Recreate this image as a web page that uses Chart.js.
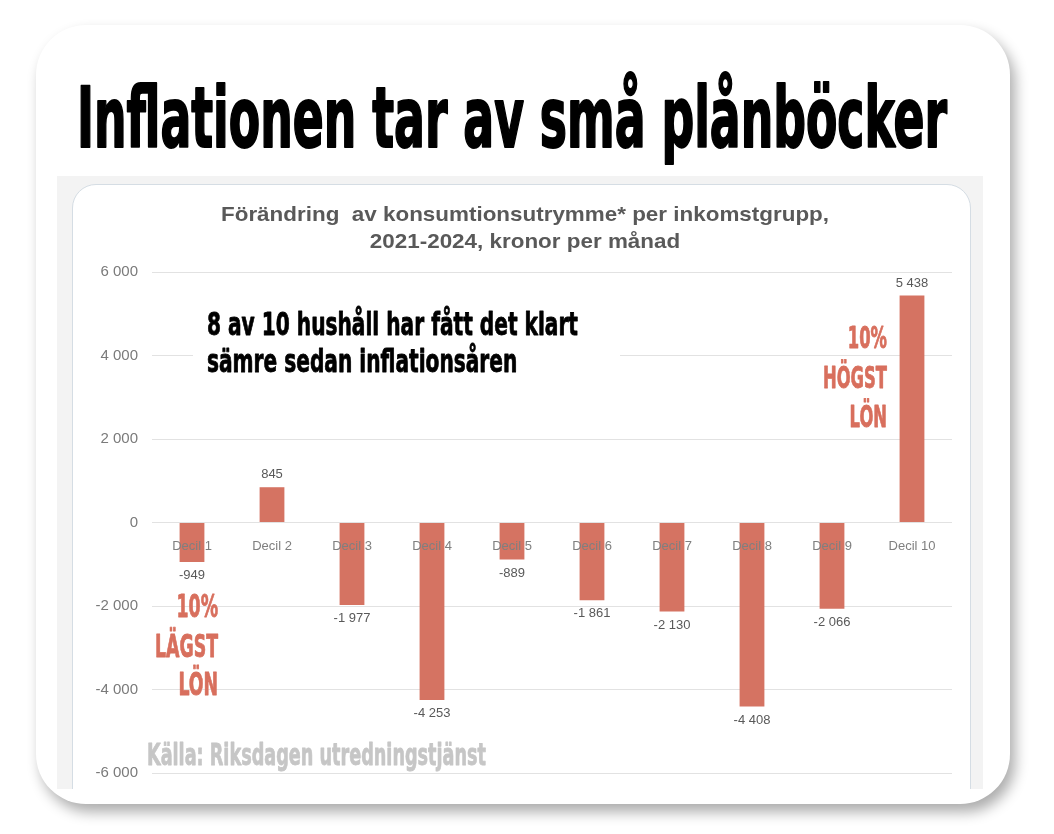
<!DOCTYPE html>
<html lang="sv">
<head>
<meta charset="utf-8">
<title>Inflationen tar av små plånböcker</title>
<script src="https://cdn.jsdelivr.net/npm/chart.js@4.4.1/dist/chart.umd.min.js"></script>
<style>
    html, body { margin: 0; padding: 0; background: #fff; }
    body { width: 1054px; height: 834px; position: relative; overflow: hidden; }
    #card {
        position: absolute; left: 36px; top: 25px; width: 974px; height: 779px;
        border-radius: 50px; background: #fff;
        box-shadow: 5px 8px 14px rgba(0, 0, 0, 0.33);
    }
    #shot {
        position: absolute; left: 57px; top: 176px; width: 926px; height: 613px;
        background: #f3f3f3; overflow: hidden;
    }
    #panel {
        position: absolute; left: 15px; top: 8px; width: 897px; height: 700px;
        background: #fff; border: 1px solid #d5dde4; border-radius: 24px;
    }
    #chart { position: absolute; left: 0; top: 0; z-index: 2; }
</style>
</head>
<body>
<div id="card"></div>
<div id="shot"><div id="panel"></div></div>
<canvas id="chart" width="1054" height="834"></canvas>

<script>
// Data
const categories = ['Decil 1', 'Decil 2', 'Decil 3', 'Decil 4', 'Decil 5',
                    'Decil 6', 'Decil 7', 'Decil 8', 'Decil 9', 'Decil 10'];
const changeKr = [-949, 845, -1977, -4253, -889, -1861, -2130, -4408, -2066, 5438];
const yTicks = [-6000, -4000, -2000, 0, 2000, 4000, 6000];

const headline = 'Inflationen tar av små plånböcker';
const chartTitle = ['Förändring  av konsumtionsutrymme* per inkomstgrupp,', '2021-2024, kronor per månad'];
const noteLines = ['8 av 10 hushåll har fått det klart', 'sämre sedan inflationsåren'];
const highLines = ['10%', 'HÖGST', 'LÖN'];
const lowLines = ['10%', 'LÄGST', 'LÖN'];
const sourceText = 'Källa: Riksdagen utredningstjänst';

const BAR_RED = '#d57362';
const TEXT_RED = '#d86f5d';
const SANS = '"Liberation Sans", Arial, sans-serif';
const NARROW = '"Liberation Sans Narrow", "DejaVu Sans Condensed", "Liberation Sans", sans-serif';

// 5438 -> "5 438", -1977 -> "-1 977"
function fmt(v) {
    const s = Math.abs(v).toString().replace(/\B(?=(\d{3})+(?!\d))/g, ' ');
    return (v < 0 ? '-' : '') + s;
}

// draws a block of lines squeezed horizontally so that the ref line gets the given width
function drawBlock(ctx, lines, opts) {
    ctx.save();
    ctx.font = opts.font;
    ctx.fillStyle = opts.color;
    ctx.strokeStyle = opts.color;
    ctx.lineJoin = 'round';
    ctx.textBaseline = 'alphabetic';
    const refW = ctx.measureText(lines[opts.refLine || 0]).width;
    const sx = opts.width / refW;
    lines.forEach((line, i) => {
        ctx.save();
        ctx.translate(opts.x, opts.baselines[i]);
        ctx.scale(sx, 1);
        ctx.textAlign = opts.align;
        ctx.fillText(line, 0, 0);
        if (opts.stroke) {
            ctx.lineWidth = opts.stroke;
            ctx.strokeText(line, 0, 0);
        }
        ctx.restore();
    });
    ctx.restore();
}

const valueLabels = {
    id: 'valueLabels',
    afterDatasetsDraw(chart) {
        const ctx = chart.ctx;
        const meta = chart.getDatasetMeta(0);
        ctx.save();
        ctx.font = '13px ' + SANS;
        ctx.fillStyle = '#595959';
        ctx.textAlign = 'center';
        meta.data.forEach((bar, i) => {
            const v = changeKr[i];
            if (v >= 0) {
                ctx.textBaseline = 'bottom';
                ctx.fillText(fmt(v), bar.x, bar.y - 6);
            } else {
                ctx.textBaseline = 'top';
                ctx.fillText(fmt(v), bar.x, bar.y + 7);
            }
        });
        ctx.restore();
    }
};

const annotations = {
    id: 'annotations',
    afterDraw(chart) {
        const ctx = chart.ctx;

        drawBlock(ctx, [headline], {
            font: 'bold 83px ' + NARROW, color: '#000', stroke: 2,
            x: 77, baselines: [147], width: 870, align: 'left'
        });

        drawBlock(ctx, chartTitle, {
            font: 'bold 21px ' + SANS, color: '#595959',
            x: 525, baselines: [221, 248], width: 608, align: 'center'
        });

        // white box over the 4 000 grid line
        ctx.save();
        ctx.fillStyle = '#fff';
        ctx.fillRect(193, 290, 427, 100);
        ctx.restore();

        drawBlock(ctx, noteLines, {
            font: 'bold 32px ' + NARROW, color: '#000', stroke: 0.8,
            x: 207, baselines: [335, 372], width: 371, align: 'left'
        });

        drawBlock(ctx, highLines, {
            font: 'bold 30px ' + NARROW, color: TEXT_RED, stroke: 0.8,
            x: 887, baselines: [348, 388, 427], width: 64, align: 'right', refLine: 1
        });

        drawBlock(ctx, lowLines, {
            font: 'bold 32px ' + NARROW, color: TEXT_RED, stroke: 0.8,
            x: 218, baselines: [617, 657, 695], width: 63, align: 'right', refLine: 1
        });

        drawBlock(ctx, [sourceText], {
            font: 'bold 31px ' + NARROW, color: '#c6c6c6', stroke: 0.8,
            x: 147, baselines: [765], width: 339, align: 'left'
        });
    }
};

new Chart(document.getElementById('chart').getContext('2d'), {
    type: 'bar',
    data: {
        labels: categories,
        datasets: [{
            data: changeKr,
            backgroundColor: BAR_RED,
            borderWidth: 0,
            barPercentage: 0.31,
            categoryPercentage: 1.0
        }]
    },
    options: {
        responsive: false,
        animation: false,
        layout: {
            padding: { left: 92, right: 102, top: 272, bottom: 61 }
        },
        plugins: {
            legend: { display: false },
            title: { display: false },
            tooltip: { enabled: false }
        },
        scales: {
            x: {
                position: { y: 0 },
                grid: { display: false },
                border: { display: false },
                ticks: {
                    z: 1,   // category names sit on top of the bars, like in the original
                    padding: 8,
                    color: '#7f7f7f',
                    font: { family: SANS, size: 13 }
                }
            },
            y: {
                min: yTicks[0],
                max: yTicks[yTicks.length - 1],
                afterFit: function (scale) { scale.width = 60; },
                afterBuildTicks: function (scale) {
                    scale.ticks = yTicks.map(v => ({ value: v }));
                },
                grid: { color: '#e2e2e2', drawTicks: false },
                border: { display: false },
                ticks: {
                    padding: 14,
                    color: '#7a7a7a',
                    font: { family: SANS, size: 15 },
                    callback: function (value) { return fmt(value); }
                }
            }
        }
    },
    plugins: [valueLabels, annotations]
});
</script>
</body>
</html>
